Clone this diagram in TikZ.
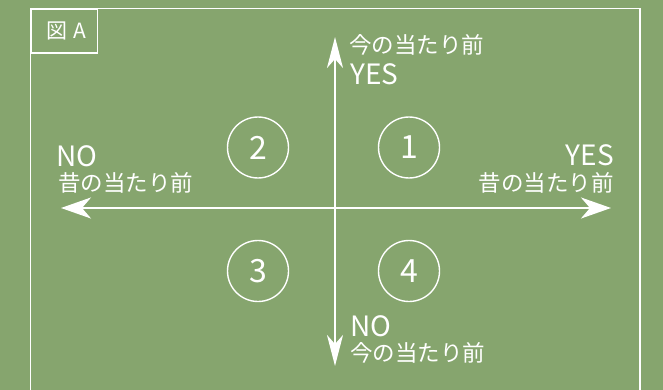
\documentclass[tikz,border=0pt]{standalone}
\usepackage{fontspec}
\setmainfont{Noto Sans CJK JP}
\usetikzlibrary{arrows.meta}
\definecolor{bgc}{HTML}{86A56E}
\begin{document}
\begin{tikzpicture}[x=1pt,y=-1pt,
  frame/.style={draw=white,line width=1.8pt},
  axis/.style={draw=white,line width=2.2pt},
  num/.style={circle,draw=white,line width=1.4pt,minimum size=61pt,inner sep=0pt,text=white,font=\fontsize{32}{32}\selectfont},
  jp/.style={text=white,inner sep=0pt,font=\fontsize{22.5}{22.5}\selectfont},
  en/.style={text=white,inner sep=0pt,font=\fontsize{28}{28}\selectfont},
  htip/.tip={Stealth[length=30pt,width=21pt,inset=9pt]},
  vtip/.tip={Stealth[length=31pt,width=16pt,inset=9pt]}]
\fill[bgc] (0,0) rectangle (663,390);
\useasboundingbox (0,0) rectangle (663,390);
% frame
\draw[frame] (30.5,395) -- (30.5,8.5) -- (640,8.5) -- (640,395);
\node[frame,anchor=north west,minimum width=66pt,minimum height=44pt,inner sep=0pt] (lab) at (30.5,8.5) {};
\node[jp,font=\fontsize{21}{21}\selectfont] (labt) at ([xshift=2pt]lab.center) {図\hspace{6pt}A};
% axes
\coordinate (L) at (61,208);
\coordinate (R) at (611,208);
\coordinate (T) at (335,37);
\coordinate (B) at (335,366);
\draw[axis,htip-htip] (L) -- (R);
\draw[axis,vtip-vtip] (B) -- (T);
% circles
\node[num] (c2) at (258,147.5) {2};
\node[num] (c1) at (409,147.5) {1};
\node[num] (c3) at (258,271) {3};
\node[num] (c4) at (409,271) {4};
% labels
\node[jp,anchor=west] (tj) at (349,45) {今の当たり前};
\node[en,anchor=west] (ty) at (350,74) {YES};
\node[en,anchor=west] (ln) at (56,156) {NO};
\node[jp,anchor=west] (lj) at (58,183) {昔の当たり前};
\node[en,anchor=east] (ry) at (614,155) {YES};
\node[jp,anchor=east] (rj) at (614,183) {昔の当たり前};
\node[en,anchor=west] (bn) at (350,326) {NO};
\node[jp,anchor=west] (bj) at (350,353) {今の当たり前};
\end{tikzpicture}
\end{document}
